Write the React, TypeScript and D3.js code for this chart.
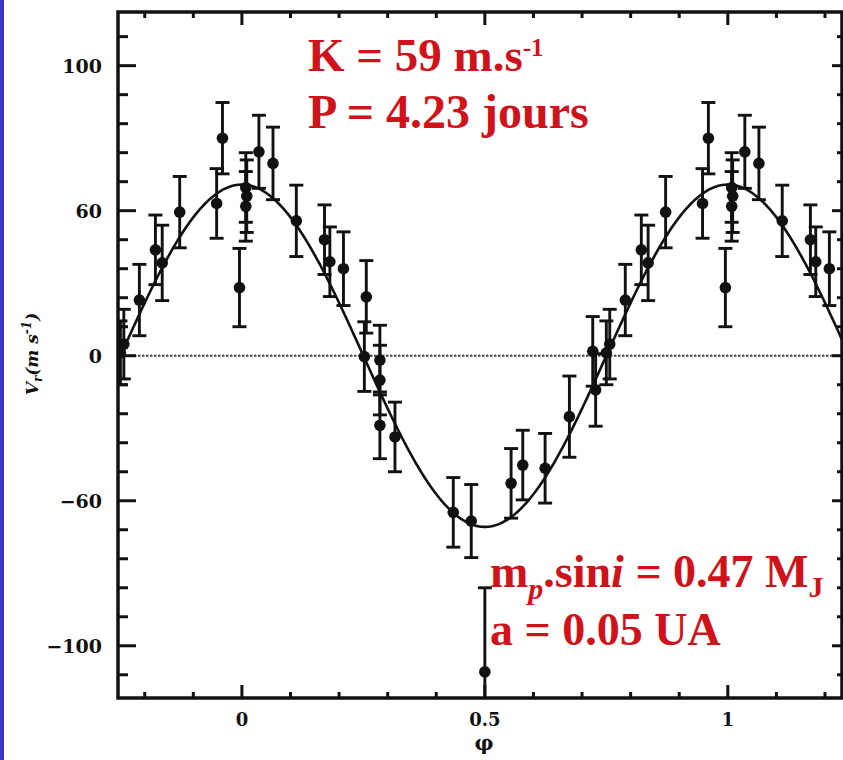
import React from "react";
import * as d3 from "d3";

const W = 843;
const H = 760;

// Radial-velocity measurements folded on the orbital phase (one cycle)
const phaseData = [0.995, 0.96, 0.948, 0.872, 0.822, 0.836, 0.789, 0.757, 0.75, 0.728, 0.722, 0.674, 0.624, 0.578, 0.554, 0.5, 0.472, 0.435, 0.315, 0.284, 0.284, 0.284, 0.252, 0.256, 0.209, 0.181, 0.17, 0.112, 0.064, 0.035, 0.008, 0.01, 0.008];
const velocityData = [23.5, 75, 52.5, 49.5, 36.5, 32, 19.2, 4, 1, -11.8, 1.5, -21, -38.8, -37.7, -44, -109, -57, -54, -28, -24, -8.4, -1.5, -0.3, 20.3, 30, 32.4, 40, 46.5, 66.3, 70.3, 58, 55, 51.5];
const errorData = [13.5, 12.3, 12, 12.3, 12, 13, 12.3, 12, 11, 12.5, 12, 14, 12, 12, 12, 29, 12.6, 12, 12, 11.5, 12, 12, 12, 12.5, 12.7, 12, 12, 12.3, 12.5, 12.6, 12, 12.5, 12];

const xMajorTicks = [0, 0.5, 1];
const xTickLabels = ["0", "0.5", "1"];
const yMajorTicks = [100, 50, 0, -50, -100];
const yTickLabels = ["100", "60", "0", "\u221260", "\u2212100"];

const K = 59; // semi-amplitude, m/s

const X_DOMAIN: [number, number] = [-0.255, 1.235];
const Y_DOMAIN: [number, number] = [-118, 118.5];

export default function App() {
  const left = 118, right = 842, top = 12, bottom = 698;
  const x = d3.scaleLinear().domain(X_DOMAIN).range([left, right]);
  const y = d3.scaleLinear().domain(Y_DOMAIN).range([bottom, top]);

  const pts: { p: number; v: number; e: number }[] = [];
  phaseData.forEach((p, i) => {
    [-1, 0, 1].forEach((o) => {
      const q = p + o;
      if (q >= X_DOMAIN[0] && q <= X_DOMAIN[1]) pts.push({ p: q, v: velocityData[i], e: errorData[i] });
    });
  });

  const curveX = d3.range(X_DOMAIN[0], X_DOMAIN[1] + 0.0005, 0.002);
  const line = d3
    .line<number>()
    .x((d) => x(d))
    .y((d) => y(K * Math.cos(2 * Math.PI * d)));

  const xMinor = d3.range(-2, 13).map((k) => k / 10);
  const yMinor = d3.range(-11, 12).map((k) => k * 10);
  const red = "#d0121a";
  const ink = "#111";
  const capW = 7;
  const serif = "Liberation Serif";

  return (
    <svg width={W} height={H} style={{ position: "absolute", left: 0, top: 0, background: "#fff" }}>
      <rect x={0} y={0} width={W} height={H} fill="#fff" />
      <rect x={0} y={0} width={4} height={H} fill="#3a36c4" />
      <defs>
        <clipPath id="plot">
          <rect x={left} y={top} width={right - left} height={bottom - top} />
        </clipPath>
      </defs>

      {/* zero line */}
      <line x1={left} x2={right} y1={y(0)} y2={y(0)} stroke="#444" strokeWidth={2} strokeDasharray="2.5,1.5" />

      {/* fitted curve and data */}
      <g clipPath="url(#plot)">
        <path d={line(curveX) || ""} fill="none" stroke={ink} strokeWidth={2.6} />
        {pts.map((d, i) => (
          <g key={i} stroke={ink} strokeWidth={2.9}>
            <line x1={x(d.p)} x2={x(d.p)} y1={y(d.v + d.e)} y2={y(d.v - d.e)} />
            <line x1={x(d.p) - capW} x2={x(d.p) + capW} y1={y(d.v + d.e)} y2={y(d.v + d.e)} />
            <line x1={x(d.p) - capW} x2={x(d.p) + capW} y1={y(d.v - d.e)} y2={y(d.v - d.e)} />
            <circle cx={x(d.p)} cy={y(d.v)} r={5.8} fill={ink} stroke="none" />
          </g>
        ))}
      </g>

      {/* frame */}
      <rect x={left} y={top} width={right - left} height={bottom - top} fill="none" stroke={ink} strokeWidth={3.5} />

      {/* x ticks */}
      {xMinor.map((t, i) => {
        const major = xMajorTicks.some((m) => Math.abs(m - t) < 1e-6);
        const len = major ? 13 : 6;
        return (
          <g key={"xt" + i} stroke={ink} strokeWidth={3}>
            <line x1={x(t)} x2={x(t)} y1={bottom} y2={bottom - len} />
            <line x1={x(t)} x2={x(t)} y1={top} y2={top + len} />
          </g>
        );
      })}
      {/* y ticks */}
      {yMinor.map((t, i) => {
        const major = yMajorTicks.includes(t);
        return (
          <g key={"yt" + i} stroke={ink} strokeWidth={3}>
            <line x1={left} x2={left + (major ? 18 : 10)} y1={y(t)} y2={y(t)} />
            <line x1={right} x2={right - (major ? 10 : 5)} y1={y(t)} y2={y(t)} />
          </g>
        );
      })}

      {/* tick labels */}
      {xMajorTicks.map((t, i) => (
        <text key={"xl" + i} x={x(t)} y={726} textAnchor="middle" fontFamily="DejaVu Serif" fontWeight="bold" fontSize={18} fill={ink}>
          {xTickLabels[i]}
        </text>
      ))}
      {yMajorTicks.map((t, i) => (
        <text key={"yl" + i} x={102} y={y(t) + 7} textAnchor="end" fontFamily="DejaVu Serif" fontWeight="bold" fontSize={19} fill={ink}>
          {yTickLabels[i]}
        </text>
      ))}

      {/* axis titles */}
      <text x={484} y={750} textAnchor="middle" fontFamily="DejaVu Serif" fontWeight="bold" fontSize={21} fill={ink}>
        φ
      </text>
      <text transform={`translate(38,${354}) rotate(-90)`} textAnchor="middle" fontFamily="DejaVu Serif" fontStyle="italic" fontWeight="bold" fontSize={17} fill={ink}>
        V<tspan fontSize={12} dy={4}>r</tspan>
        <tspan dy={-4}>(m s</tspan>
        <tspan fontSize={12} dy={-7}>-1</tspan>
        <tspan dy={7}>)</tspan>
      </text>

      {/* annotations */}
      <g fontFamily={serif} fontWeight="bold" fill={red}>
        <text x={308} y={71} fontSize={47}>
          K = 59 m.s<tspan fontSize={25} dy={-15}>-1</tspan>
        </text>
        <text x={308} y={128} fontSize={48}>
          P = 4.23 jours
        </text>
        <text x={490} y={587} fontSize={46}>
          m<tspan fontSize={30} dy={12} fontStyle="italic">p</tspan>
          <tspan dy={-12}>.sin</tspan>
          <tspan fontStyle="italic">i</tspan>
          <tspan> = 0.47 M</tspan>
          <tspan fontSize={30} dy={10}>J</tspan>
        </text>
        <text x={490} y={645} fontSize={46}>
          a = 0.05 UA
        </text>
      </g>
    </svg>
  );
}
